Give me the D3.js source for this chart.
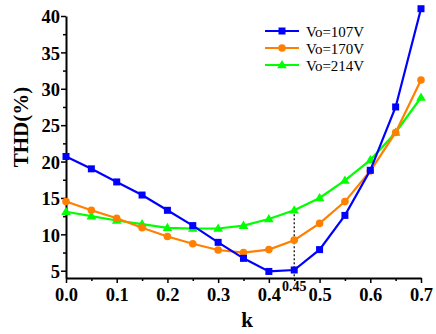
<!DOCTYPE html>
<html>
<head>
<meta charset="utf-8">
<script src="https://cdn.jsdelivr.net/npm/d3@7"></script>
<style>
  body { margin: 0; background: #fff; }
  svg { display: block; }
</style>
</head>
<body>
<svg id="svg1" width="436" height="334"></svg>
<script>
// data
var kValues = [0, 0.05, 0.1, 0.15, 0.2, 0.25, 0.3, 0.35, 0.4, 0.45, 0.5, 0.55, 0.6, 0.65, 0.7];
var thd107 = [20.7, 19.0, 17.2, 15.4, 13.3, 11.2, 8.9, 6.7, 4.9, 5.1, 7.9, 12.6, 18.8, 27.5, 41.0];
var thd170 = [14.5, 13.3, 12.2, 10.9, 9.7, 8.7, 7.85, 7.5, 7.9, 9.2, 11.5, 14.5, 18.7, 24.0, 31.2];
var thd214 = [13.1, 12.5, 11.9, 11.4, 10.9, 10.8, 10.8, 11.2, 12.1, 13.3, 15.0, 17.4, 20.2, 24.0, 28.8];
var seriesNames = ['Vo=107V', 'Vo=170V', 'Vo=214V'];
var seriesColors = ['#0000ff', '#ff8000', '#00ff00'];
var seriesMarkers = ['square', 'circle', 'triangle'];
var xTicks = [0, 0.1, 0.2, 0.3, 0.4, 0.5, 0.6, 0.7];
var yTicks = [5, 10, 15, 20, 25, 30, 35, 40];
var markK = 0.45;

var svg = d3.select('#svg1');

var x = d3.scaleLinear().domain([0, 0.7]).range([66, 421]);
var y = d3.scaleLinear().domain([4, 40]).range([278, 16]);

var font = '"Liberation Serif", "Times New Roman", serif';

// minor ticks
svg.append('g')
    .attr('transform', 'translate(0,278)')
    .call(d3.axisBottom(x).tickValues(d3.range(0.05, 0.7, 0.1)).tickSize(3).tickFormat(''))
    .call(function(g){ g.select('.domain').remove(); g.selectAll('line').attr('stroke-width', 1.5); });

svg.append('g')
    .attr('transform', 'translate(66,0)')
    .call(d3.axisLeft(y).tickValues([7.5, 12.5, 17.5, 22.5, 27.5, 32.5, 37.5]).tickSize(3).tickFormat(''))
    .call(function(g){ g.select('.domain').remove(); g.selectAll('line').attr('stroke-width', 1.5); });

// main axes
var xAxis = svg.append('g')
    .attr('transform', 'translate(0,278)')
    .call(d3.axisBottom(x).tickValues(xTicks).tickSizeInner(5).tickSizeOuter(0).tickPadding(5).tickFormat(d3.format('.1f')));

var yAxis = svg.append('g')
    .attr('transform', 'translate(66,0)')
    .call(d3.axisLeft(y).tickValues(yTicks).tickSizeInner(5).tickSizeOuter(0).tickPadding(1).tickFormat(d3.format('d')));

[xAxis, yAxis].forEach(function(g){
    g.select('.domain').attr('stroke-width', 2);
    g.selectAll('line').attr('stroke-width', 1.5);
    g.selectAll('text')
        .attr('font-family', font)
        .attr('font-weight', 'bold')
        .attr('font-size', 18.5)
        .attr('fill', '#000');
});
yAxis.selectAll('text').attr('dy', '0.36em');

// axis titles
svg.append('text')
    .text('k')
    .attr('x', 247)
    .attr('y', 327)
    .attr('text-anchor', 'middle')
    .attr('font-family', font)
    .attr('font-weight', 'bold')
    .attr('font-size', 21);

svg.append('text')
    .text('THD(%)')
    .attr('transform', 'translate(28,127) rotate(-90)')
    .attr('text-anchor', 'middle')
    .attr('font-family', font)
    .attr('font-weight', 'bold')
    .attr('font-size', 21);

// dotted marker line at k = 0.45
svg.append('line')
    .attr('x1', x(markK)).attr('x2', x(markK))
    .attr('y1', y(thd214[kValues.indexOf(markK)]))
    .attr('y2', y(4))
    .attr('stroke', '#000')
    .attr('stroke-width', 1.2)
    .attr('stroke-dasharray', '2,2');

svg.append('text')
    .text('0.45')
    .attr('x', x(markK))
    .attr('y', 291)
    .attr('text-anchor', 'middle')
    .attr('font-family', font)
    .attr('font-weight', 'bold')
    .attr('font-size', 14);

var allSeries = [thd107, thd170, thd214];

function drawMarker(g, type, cx, cy, color) {
    if (type === 'square') {
        g.append('rect').attr('x', cx - 3.5).attr('y', cy - 3.5).attr('width', 7).attr('height', 7).attr('fill', color);
    } else if (type === 'circle') {
        g.append('circle').attr('cx', cx).attr('cy', cy).attr('r', 3.8).attr('fill', color);
    } else {
        g.append('path').attr('d', d3.symbol().type(d3.symbolTriangle).size(40)()).attr('transform', 'translate(' + cx + ',' + (cy + 0.5) + ')').attr('fill', color);
    }
}

var line = d3.line()
    .x(function(d){ return x(d[0]); })
    .y(function(d){ return y(d[1]); });

// draw in reverse so blue is on top
[2, 1, 0].forEach(function(i){
    var pts = kValues.map(function(k, j){ return [k, allSeries[i][j]]; });
    var g = svg.append('g');
    g.append('path')
        .attr('d', line(pts))
        .attr('fill', 'none')
        .attr('stroke', seriesColors[i])
        .attr('stroke-width', 2.2);
    pts.forEach(function(p){
        drawMarker(g, seriesMarkers[i], x(p[0]), y(p[1]), seriesColors[i]);
    });
});

// legend
seriesNames.forEach(function(name, i){
    var ly = 31 + i * 17;
    var g = svg.append('g');
    g.append('line')
        .attr('x1', 265).attr('x2', 299)
        .attr('y1', ly).attr('y2', ly)
        .attr('stroke', seriesColors[i])
        .attr('stroke-width', 2.2);
    drawMarker(g, seriesMarkers[i], 282, ly, seriesColors[i]);
    g.append('text')
        .text(name)
        .attr('x', 306)
        .attr('y', ly + 5.5)
        .attr('font-family', font)
        .attr('font-size', 15);
});
</script>
</body>
</html>
